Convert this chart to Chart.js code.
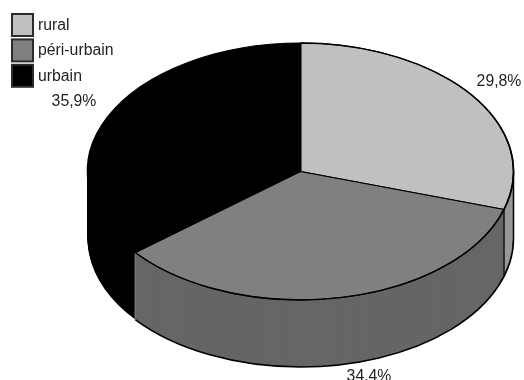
<!DOCTYPE html>
<html>
<head>
<meta charset="utf-8">
<title>Répartition rural / péri-urbain / urbain</title>
<script src="https://cdn.jsdelivr.net/npm/chart.js@4"></script>
<style>
  html, body { margin: 0; padding: 0; background: #fff; }
  canvas { display: block; }
</style>
</head>
<body>
<canvas id="pieChart" width="524" height="380"></canvas>
<script>
const categories = ['rural', 'péri-urbain', 'urbain'];
const shares = [29.8, 34.4, 35.9];
const shareLabels = ['29,8%', '34.4%', '35,9%'];
const topColors = ['#c0c0c0', '#808080', '#000000'];
const wallColors = ['#999999', '#666666', '#000000'];

// where the disc sits on the page and how flat it looks
const discX = 300.5;
const discY = 171.5;
const discRadius = 213;
const tilt = 0.603;
const wallDepth = 67;
const labelCentres = [[499, 81.5], [369, 376.5], [74, 101.5]];
const textFont = '15.8px "Liberation Sans", Arial, sans-serif';
const textColor = '#1f1f1f';

function tiltCanvas(ctx, el, drop) {
	ctx.translate(discX, discY + drop);
	ctx.scale(1, tilt);
	ctx.translate(-el.x, -el.y);
}

// draw one arc in another colour, leaving the element as it was
function drawArcAs(ctx, el, fill) {
	const saved = el.options;
	el.options = Object.assign({}, saved, {backgroundColor: fill, borderWidth: 0});
	el.draw(ctx);
	el.options = saved;
}

function rimLine(ctx, angle, color, width) {
	const x = discX + discRadius * Math.cos(angle);
	const y = discY + discRadius * tilt * Math.sin(angle);
	ctx.strokeStyle = color;
	ctx.lineWidth = width;
	ctx.beginPath();
	ctx.moveTo(x, y);
	ctx.lineTo(x, y + wallDepth);
	ctx.stroke();
}

function rimCurve(ctx, drop, from, to, width) {
	ctx.strokeStyle = '#000000';
	ctx.lineWidth = width;
	ctx.beginPath();
	ctx.ellipse(discX, discY + drop, discRadius, discRadius * tilt, 0, from, to);
	ctx.stroke();
}

function drawKey(ctx) {
	ctx.save();
	ctx.font = textFont;
	ctx.textBaseline = 'middle';
	categories.forEach((name, i) => {
		const y = 14 + i * 25.4;
		ctx.fillStyle = topColors[i];
		ctx.fillRect(12, y, 21, 22);
		ctx.strokeStyle = '#2b2b2b';
		ctx.lineWidth = 2;
		ctx.strokeRect(12, y, 21, 22);
		ctx.fillStyle = textColor;
		ctx.fillText(name, 38, y + 11.5);
	});
	ctx.restore();
}

const tiltedPie = {
	id: 'tiltedPie',
	beforeDatasetDraw(chart, args) {
		const ctx = chart.ctx;
		const arcs = args.meta.data;

		// side wall: the same arcs stacked from the bottom up
		for (let drop = wallDepth; drop > 0; drop--) {
			ctx.save();
			tiltCanvas(ctx, arcs[0], drop);
			arcs.forEach((el, i) => drawArcAs(ctx, el, wallColors[i]));
			ctx.restore();
		}

		// the black slice needs no outline of its own
		rimCurve(ctx, wallDepth, 0, arcs[1].endAngle, 1.6);
		rimLine(ctx, 0, '#000000', 1.5);
		rimLine(ctx, arcs[0].endAngle, '#111111', 1.5);
		rimLine(ctx, arcs[1].endAngle, '#8a8a8a', 1.2);

		ctx.save();
		tiltCanvas(ctx, arcs[0], 0);
	},
	afterDatasetDraw(chart, args) {
		const arcs = args.meta.data;
		chart.ctx.restore();
		rimCurve(chart.ctx, 0, arcs[0].startAngle, arcs[1].endAngle, 1.4);
	},
	afterDraw(chart) {
		const ctx = chart.ctx;
		drawKey(ctx);
		ctx.save();
		ctx.font = textFont;
		ctx.fillStyle = textColor;
		ctx.textAlign = 'center';
		ctx.textBaseline = 'middle';
		shareLabels.forEach((text, i) => {
			ctx.fillText(text, labelCentres[i][0], labelCentres[i][1]);
		});
		ctx.restore();
	}
};

const pieChart = new Chart(document.getElementById('pieChart').getContext('2d'), {
	type: 'pie',
	data: {
		labels: categories,
		datasets: [{
			data: shares,
			backgroundColor: topColors,
			borderColor: '#000000',
			borderWidth: 1.6,
			clip: false
		}]
	},
	options: {
		responsive: false,
		animation: false,
		radius: discRadius,
		plugins: {
			legend: {display: false},
			tooltip: {enabled: false}
		}
	},
	plugins: [tiltedPie]
});
</script>
</body>
</html>
